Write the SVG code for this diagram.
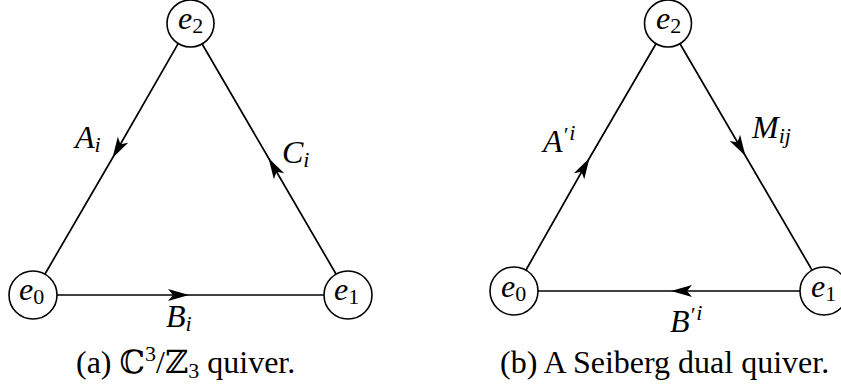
<svg xmlns="http://www.w3.org/2000/svg" width="841" height="389" viewBox="0 0 841 389">
<style>
.node{fill:#fff;stroke:#000;stroke-width:1.6}
.edge{fill:none;stroke:#000;stroke-width:1.7}
.m{font-family:"Liberation Serif","DejaVu Serif",serif;font-style:italic;font-size:32px;fill:#000}
.sub{font-style:normal;font-size:22px}
.isub{font-size:22px}
.cap{font-family:"Liberation Serif","DejaVu Serif",serif;font-size:32px;fill:#000}
</style>
<defs>
<marker id="arr" viewBox="-22 -7 24 14" refX="0" refY="0" markerWidth="24" markerHeight="14" markerUnits="userSpaceOnUse" orient="auto">
<path d="M0,0 L-21,-6 L-16,0 L-21,6 Z" fill="#000"/>
</marker>
</defs>
<rect width="841" height="389" fill="#fff"/>
<g id="connectors">
<path id="Ai" class="edge" d="M178,43.8 L112.5,158 L45,274" marker-mid="url(#arr)"/>
<path id="Ci" class="edge" d="M336,274 L268.5,158 L202,43.8" marker-mid="url(#arr)"/>
<path id="Bi" class="edge" d="M57,295 L189,295 L324,295" marker-mid="url(#arr)"/>
<path id="Api" class="edge" d="M526,270 L589.5,158 L656,43.8" marker-mid="url(#arr)"/>
<path id="Mij" class="edge" d="M680,43.8 L745.5,156 L812,270" marker-mid="url(#arr)"/>
<path id="Bpi" class="edge" d="M800,291 L671,291 L538,291" marker-mid="url(#arr)"/>
</g>
<g id="a-e2"><circle class="node" cx="190.5" cy="23.5" r="23.5"/><text class="m" x="178" y="29">e<tspan class="sub" dy="4">2</tspan></text></g>
<g id="a-e0"><circle class="node" cx="33" cy="295" r="24"/><text class="m" x="19" y="300">e<tspan class="sub" dy="4">0</tspan></text></g>
<g id="a-e1"><circle class="node" cx="348" cy="295" r="24"/><text class="m" x="334" y="300">e<tspan class="sub" dy="4">1</tspan></text></g>
<g id="b-e2"><circle class="node" cx="668" cy="23.5" r="23.5"/><text class="m" x="656" y="29">e<tspan class="sub" dy="4">2</tspan></text></g>
<g id="b-e0"><circle class="node" cx="514" cy="291" r="24"/><text class="m" x="501" y="297">e<tspan class="sub" dy="4">0</tspan></text></g>
<g id="b-e1"><circle class="node" cx="824" cy="291" r="24"/><text class="m" x="811" y="297">e<tspan class="sub" dy="4">1</tspan></text></g>
<g id="labels">
<text class="m" x="75" y="148">A<tspan class="isub" dy="4">i</tspan></text>
<text class="m" x="282" y="163">C<tspan class="isub" dy="4">i</tspan></text>
<text class="m" x="166" y="327">B<tspan class="isub" dy="4">i</tspan></text>
<text class="m" x="543" y="152">A<tspan class="isub" dy="-10">′</tspan><tspan class="isub" dx="2" dy="-2">i</tspan></text>
<text class="m" x="752" y="138">M<tspan class="isub" dy="5">ij</tspan></text>
<text class="m" x="670" y="332">B<tspan class="isub" dy="-10">′</tspan><tspan class="isub" dx="2" dy="-2">i</tspan></text>
</g>
<g id="captions">
<text class="cap" x="76" y="373">(a) ℂ<tspan font-size="22" dy="-12">3</tspan><tspan dy="12">/ℤ</tspan><tspan font-size="22" dy="5">3</tspan><tspan dy="-5"> quiver.</tspan></text>
<text class="cap" x="500" y="373">(b) A Seiberg dual quiver.</text>
</g>
</svg>
